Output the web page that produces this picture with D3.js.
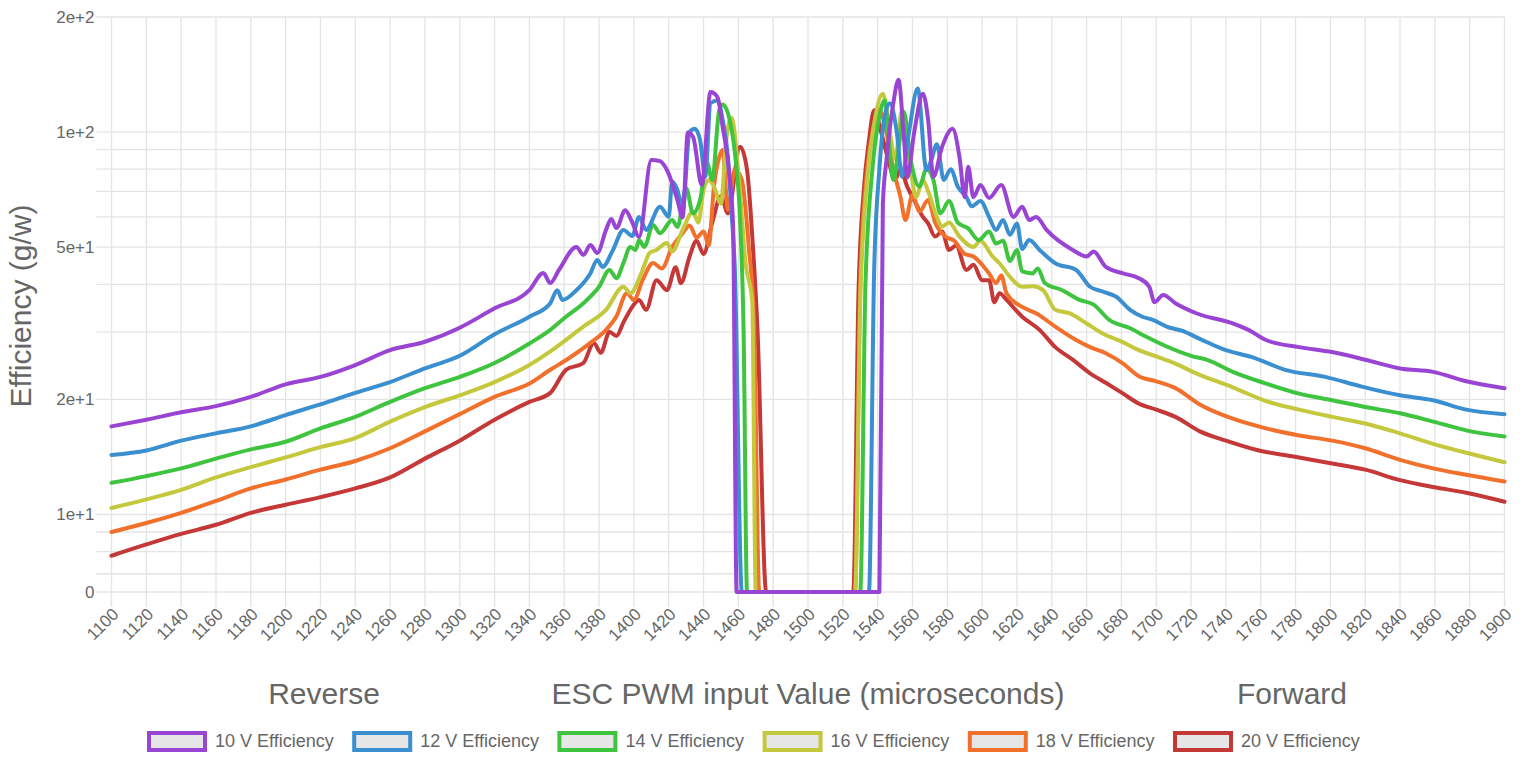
<!DOCTYPE html>
<html>
<head>
<meta charset="utf-8">
<script src="https://cdn.jsdelivr.net/npm/d3@7"></script>
<style>
  html, body { margin: 0; padding: 0; background: #fff; }
  svg { display: block; }
  text { font-family: "Liberation Sans", Arial, Helvetica, sans-serif; }
</style>
</head>
<body>
<svg id="chart" width="1525" height="761"></svg>
<script>
// ESC PWM input (microseconds) vs. efficiency (g/W) at six supply voltages.
const xTickValues = d3.range(1100, 1901, 20);
const yTickLabels = [
  { v: 0, label: "0" },
  { v: 10, label: "1e+1" },
  { v: 20, label: "2e+1" },
  { v: 50, label: "5e+1" },
  { v: 100, label: "1e+2" },
  { v: 200, label: "2e+2" }
];
const yGridValues = [0, 7, 8, 9, 10, 20, 30, 40, 50, 60, 70, 80, 90, 100, 200];

const seriesNames = ["10 V Efficiency", "12 V Efficiency", "14 V Efficiency",
                     "16 V Efficiency", "18 V Efficiency", "20 V Efficiency"];
const seriesColors = ["#9a44d4", "#3a8fd0", "#3ec43e", "#c4c83c", "#f0702c", "#c43838"];

// [pwm, efficiency] pairs
const v10 = [[1100,17.0],[1120,17.7],[1140,18.5],[1160,19.2],[1180,20.3],[1200,21.9],[1220,22.9],[1240,24.6],[1260,26.9],[1280,28.3],[1300,30.8],[1320,34.6],[1340,38.6],[1348,42.8],[1352,40.3],[1357,43.6],[1367,50.1],[1371,47.7],[1375,50.7],[1379,48.3],[1384,55.5],[1387,59.3],[1390,56.1],[1395,62.5],[1399,58.2],[1403,53.2],[1410,84.6],[1415,84.0],[1419,79.6],[1425,66.5],[1428,59.8],[1431,99.7],[1434,97.1],[1439,72.7],[1444,127.3],[1448,123.5],[1451,103.1],[1455,76.4],[1457,56.6],[1459,0],[1541,0],[1543,65],[1545,84],[1549,119],[1552,137],[1555,98],[1557,76],[1561,100],[1566,126],[1569,107.6],[1572,76.4],[1577,91.5],[1583,102],[1587,86],[1590,67.6],[1592,81.2],[1595,67.6],[1599,72.7],[1604,67.3],[1611,72.7],[1618,60],[1623,63.8],[1627,58.9],[1631,60],[1637,55.5],[1652,49.2],[1660,47.3],[1664,48.7],[1671,44.4],[1681,42.7],[1690,41.5],[1696,39.4],[1699,35.9],[1704,37.5],[1711,35.7],[1723,33.6],[1744,31.6],[1753,30.4],[1763,28.6],[1782,27.4],[1801,26.6],[1820,25.4],[1840,24.1],[1859,23.6],[1878,22.3],[1900,21.4]];

const v12 = [[1100,14.3],[1120,14.7],[1140,15.6],[1160,16.3],[1180,17.0],[1200,18.2],[1220,19.4],[1240,20.8],[1260,22.2],[1280,24.1],[1300,26.0],[1320,29.6],[1340,32.9],[1352,35.7],[1356,38.6],[1359,36.4],[1367,38.6],[1375,42.7],[1379,46.3],[1382,44.4],[1388,49.2],[1394,55.5],[1399,53.5],[1403,60.0],[1407,55.5],[1415,63.8],[1420,60.0],[1422,74.2],[1425,70.6],[1428,62.6],[1432,100],[1435,102],[1438,95.4],[1441,76.4],[1444,119],[1448,121],[1451,107.6],[1454,86.0],[1456,62.6],[1458,43.6],[1462,0],[1535,0],[1538,43.6],[1541,80],[1544,110],[1547,119],[1551,100],[1554,76.4],[1558,100],[1563,130],[1568,79.6],[1571,85],[1574,93],[1578,75],[1582,80],[1586,72],[1591,67.6],[1594,64],[1599,66],[1604,60],[1608,55.5],[1612,58.9],[1616,53.9],[1620,57.7],[1623,49.5],[1627,52.2],[1633,49.2],[1642,45.4],[1654,43.6],[1662,39.4],[1669,38.3],[1677,37.1],[1685,34.3],[1692,32.9],[1698,32.3],[1706,31.0],[1715,30.2],[1725,28.8],[1740,26.9],[1755,25.8],[1774,23.9],[1797,22.9],[1818,21.6],[1840,20.5],[1859,19.9],[1878,18.8],[1900,18.3]];

const v14 = [[1100,12.1],[1120,12.6],[1140,13.2],[1160,14.0],[1180,14.8],[1200,15.5],[1220,16.8],[1240,18.0],[1260,19.7],[1280,21.4],[1300,22.9],[1320,24.9],[1340,28.0],[1352,30.4],[1361,32.9],[1371,35.7],[1380,39.4],[1386,43.6],[1390,41.5],[1394,45.5],[1398,50.1],[1401,49.2],[1403,52.2],[1406,50.1],[1411,57.2],[1415,54.4],[1422,58.9],[1425,56.5],[1430,71.3],[1434,61.3],[1438,66.4],[1442,83],[1445,75],[1449,114],[1451,118],[1455,107.6],[1458,88.3],[1461,59],[1463,30.4],[1465,0],[1530,0],[1533,40],[1537,80],[1541,110],[1544,121],[1549,75],[1552,90],[1555,113],[1559,84.6],[1564,72],[1568,80],[1572,75],[1576,61.3],[1581,66],[1586,58],[1592,56],[1598,52.2],[1604,55],[1608,51.1],[1612,52],[1616,46.0],[1620,49.2],[1623,43.2],[1629,42.7],[1632,44.0],[1636,40.3],[1646,38.6],[1656,36.4],[1664,35.4],[1673,32.3],[1685,30.7],[1694,29.2],[1706,27.5],[1720,26.0],[1730,25.3],[1744,23.6],[1763,22.0],[1782,20.7],[1801,19.9],[1820,19.1],[1840,18.4],[1859,17.5],[1878,16.6],[1900,16.0]];

const v16 = [[1100,10.4],[1120,10.95],[1140,11.6],[1160,12.5],[1180,13.3],[1200,14.1],[1220,15.0],[1240,15.85],[1260,17.5],[1280,19.1],[1300,20.5],[1320,22.2],[1340,24.6],[1352,26.7],[1371,31.0],[1384,34.3],[1394,39.4],[1398,37.9],[1405,43.6],[1409,48.3],[1413,49.2],[1419,51.3],[1422,48.7],[1428,55.5],[1434,62],[1437,58],[1440,70.6],[1443,75],[1446,72],[1450,65],[1453,95],[1456,109],[1461,69],[1464,46],[1468,36],[1470,0],[1527,0],[1530,36],[1534,75],[1538,105],[1543,126],[1547,100],[1550,85],[1554,114],[1559,79.6],[1562,67.6],[1566,75],[1569,70],[1574,60],[1577,56.6],[1581,58],[1587,53.3],[1595,50.1],[1599,52],[1606,47.3],[1610,45.4],[1616,41.8],[1623,39.4],[1629,39.5],[1635,38.6],[1642,34.3],[1650,33.6],[1660,31.6],[1669,29.8],[1681,28.2],[1690,26.9],[1700,25.9],[1711,24.8],[1723,23.4],[1744,21.5],[1763,19.8],[1782,18.8],[1801,18.0],[1820,17.3],[1840,16.3],[1859,15.3],[1878,14.5],[1900,13.7]];

const v18 = [[1100,9.0],[1120,9.5],[1140,10.1],[1160,10.85],[1180,11.7],[1200,12.35],[1220,13.1],[1240,13.8],[1260,14.9],[1280,16.5],[1300,18.3],[1320,20.3],[1340,22.0],[1352,23.9],[1362,25.5],[1375,28.1],[1384,30.4],[1390,33],[1396,37.9],[1400,36.4],[1405,41.0],[1411,45.5],[1416,44],[1422,50.1],[1428,54.4],[1432,57],[1436,53],[1440,55],[1443,50.6],[1446,72.1],[1449,86.0],[1451,89.8],[1454,62.6],[1458,80],[1462,75],[1466,50],[1469,32],[1472,0],[1527,0],[1530,40],[1534,80],[1537,100],[1541,114],[1545,100],[1549,80],[1553,68],[1556,58.9],[1560,68.6],[1564,62],[1569,66.4],[1573,58],[1579,53.3],[1584,52],[1590,48],[1595,47.3],[1600,45],[1604,42.7],[1608,40.3],[1611,42.2],[1614,37.9],[1623,34.9],[1631,33.6],[1642,31.0],[1654,28.6],[1662,27.4],[1671,26.4],[1681,24.8],[1690,23.0],[1700,22.3],[1711,21.4],[1725,19.4],[1744,17.8],[1763,16.8],[1782,16.1],[1801,15.6],[1820,14.9],[1840,13.9],[1859,13.2],[1878,12.7],[1900,12.2]];

const v20 = [[1100,7.8],[1120,8.35],[1140,8.9],[1160,9.4],[1180,10.1],[1200,10.6],[1220,11.1],[1240,11.7],[1260,12.5],[1280,14.0],[1300,15.6],[1320,17.7],[1340,19.7],[1352,20.8],[1361,23.9],[1371,24.9],[1377,28.1],[1381,26.5],[1386,30.0],[1390,29.3],[1394,31.8],[1398,34.3],[1403,36.4],[1407,34.3],[1413,41.0],[1419,38.6],[1424,44.3],[1427,40.3],[1432,47.3],[1436,52],[1440,48],[1445,58],[1450,68],[1454,61.3],[1461,91.5],[1465,79.6],[1468,53.3],[1471,30.4],[1476,0],[1526,0],[1529,38],[1532,70],[1535,95],[1538,114],[1542,100],[1546,85],[1550,75],[1553,80],[1557,72],[1562,65],[1566,60],[1569,57.7],[1573,53.3],[1577,55],[1581,49.2],[1585,50.5],[1591,43.6],[1595,45],[1600,41],[1604,41.0],[1607,35.9],[1610,37.9],[1614,36.4],[1623,32.9],[1633,30.4],[1642,27.4],[1652,25.4],[1662,23.4],[1671,22.1],[1681,20.7],[1690,19.5],[1700,18.8],[1711,18.0],[1725,16.5],[1740,15.6],[1759,14.7],[1778,14.2],[1801,13.6],[1820,13.1],[1840,12.3],[1859,11.8],[1878,11.4],[1900,10.8]];

const seriesData = [v10, v12, v14, v16, v18, v20];

// ---- layout ----
const W = 1525, H = 761;
const plot = { left: 111.5, right: 1504.5, top: 17, bottom: 592 };
const tickLen = 15;
const gridColor = "#e4e4e4";
const textColor = "#666";

const svg = d3.select("#chart");
svg.append("rect").attr("width", W).attr("height", H).attr("fill", "#fff");

const x = d3.scaleLinear().domain([1100, 1900]).range([plot.left, plot.right]);
// logarithmic scale; zero sits on the bottom edge
const yLog = d3.scaleLog().domain([10, 200]).range([514.5, plot.top]);
const y = v => (v <= 0 ? plot.bottom : yLog(v));

// grid
const grid = svg.append("g").attr("class", "grid");
grid.selectAll("line.h").data(yGridValues).join("line")
  .attr("class", "h")
  .attr("x1", plot.left - tickLen).attr("x2", plot.right)
  .attr("y1", d => y(d)).attr("y2", d => y(d))
  .attr("stroke", gridColor).attr("stroke-width", 1.3);
grid.selectAll("line.v").data(xTickValues).join("line")
  .attr("class", "v")
  .attr("x1", d => x(d)).attr("x2", d => x(d))
  .attr("y1", plot.top).attr("y2", plot.bottom + tickLen)
  .attr("stroke", gridColor).attr("stroke-width", 1.3);

// y tick labels
svg.append("g").selectAll("text").data(yTickLabels).join("text")
  .attr("x", plot.left - 17)
  .attr("y", d => y(d.v))
  .attr("dy", "0.35em")
  .attr("text-anchor", "end")
  .attr("font-size", 17)
  .attr("fill", textColor)
  .text(d => d.label);

// x tick labels, rotated
svg.append("g").selectAll("text").data(xTickValues).join("text")
  .attr("transform", d => `translate(${x(d) + 4},${plot.bottom + 19}) rotate(-45)`)
  .attr("dy", "0.35em")
  .attr("text-anchor", "end")
  .attr("font-size", 17)
  .attr("fill", textColor)
  .text(d => d);

// axis titles
svg.append("text")
  .attr("transform", `translate(31,306) rotate(-90)`)
  .attr("text-anchor", "middle")
  .attr("font-size", 30)
  .attr("fill", textColor)
  .text("Efficiency (g/w)");

const xTitleY = 704;
[["Reverse", 324], ["ESC PWM input Value (microseconds)", 808], ["Forward", 1292]].forEach(([t, cx]) => {
  svg.append("text")
    .attr("x", cx).attr("y", xTitleY)
    .attr("text-anchor", "middle")
    .attr("font-size", 30)
    .attr("fill", textColor)
    .text(t);
});

// series lines: first series drawn last so it sits on top
const line = d3.line()
  .x(d => x(d[0]))
  .y(d => y(d[1]))
  .curve(d3.curveMonotoneX);

const lines = svg.append("g").attr("fill", "none")
  .attr("stroke-linejoin", "round").attr("stroke-linecap", "round");
for (let i = seriesData.length - 1; i >= 0; i--) {
  lines.append("path")
    .attr("d", line(seriesData[i]))
    .attr("stroke", seriesColors[i])
    .attr("stroke-width", 4);
}

// legend
const legend = svg.append("g");
const legendX0 = 147, legendStep = 205.2, legendY = 731;
seriesNames.forEach((name, i) => {
  const gx = legendX0 + i * legendStep;
  legend.append("rect")
    .attr("x", gx + 2).attr("y", legendY + 2)
    .attr("width", 56).attr("height", 17)
    .attr("fill", "#e6e6e6")
    .attr("stroke", seriesColors[i])
    .attr("stroke-width", 4);
  legend.append("text")
    .attr("x", gx + 68).attr("y", legendY + 16)
    .attr("font-size", 18)
    .attr("fill", textColor)
    .text(name);
});
</script>
</body>
</html>
